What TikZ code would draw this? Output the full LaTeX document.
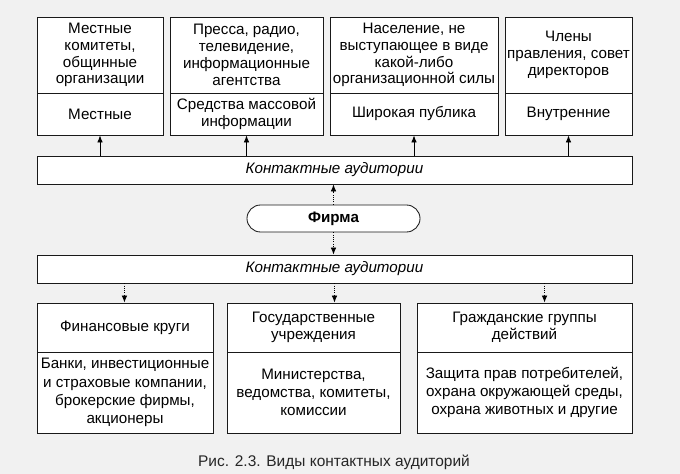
\documentclass[tikz,border=0pt]{standalone}
\usepackage{fontspec}
\setmainfont{Liberation Sans}
\usetikzlibrary{arrows.meta}
\definecolor{paper gray}{rgb}{0.945, 0.945, 0.945}
\definecolor{frame black}{rgb}{0.1, 0.1, 0.1}

\begin{document}
\begin{tikzpicture}[x=0.025cm, y=-0.025cm,
		cell/.style={draw=frame black, fill=white, line width=0.6pt, align=center,
			inner sep=0pt, font=\fontsize{10.8}{12}\selectfont},
		wide cell/.style={cell, font=\fontsize{10.8}{13}\selectfont},
		bar/.style={cell, minimum width=14.875cm, minimum height=0.7cm,
			font=\fontsize{10.8}{12}\selectfont\itshape},
		up/.style={-{Latex[length=5pt, width=4pt]}, line width=0.6pt},
		down/.style={up, densely dotted}]
		% page
		\useasboundingbox (0, 0) rectangle (680, 474);
		\fill[paper gray] (0, 0) rectangle (680, 474);
		% part for the upper audiences
		\node[cell, minimum width=3.15cm, minimum height=1.9cm] (local) at (100, 55)
			{Местные\\комитеты,\\общинные\\организации};
		\node[cell, minimum width=3.15cm, minimum height=1.05cm] (localname) at (100, 114)
			{Местные};
		\node[cell, minimum width=3.825cm, minimum height=1.9cm] (press) at (246.5, 55)
			{Пресса, радио,\\телевидение,\\информационные\\агентства};
		\node[cell, minimum width=3.825cm, minimum height=1.05cm] (pressname) at (246.5, 114)
			{Средства массовой\\информации};
		\node[cell, minimum width=4.2cm, minimum height=1.9cm] (public) at (414, 55)
			{Население, не\\выступающее в виде\\какой-либо\\организационной силы};
		\node[cell, minimum width=4.2cm, minimum height=1.05cm] (publicname) at (414, 114)
			{Широкая публика};
		\node[cell, minimum width=3.175cm, minimum height=1.9cm] (board) at (568.5, 55)
			{Члены\\правления, совет\\директоров};
		\node[cell, minimum width=3.175cm, minimum height=1.05cm] (boardname) at (568.5, 114)
			{Внутренние};
		% part for the firm and both bars
		\node[bar] (ubar) at (334.5, 170) {Контактные аудитории};
		\node[cell, rounded corners=0.34cm, minimum width=4.325cm, minimum height=0.675cm,
			font=\fontsize{10.8}{12}\selectfont\bfseries] (firm) at (333.5, 218.5) {Фирма};
		\node[bar] (lbar) at (334.5, 269) {Контактные аудитории};
		% part for the lower audiences
		\node[cell, minimum width=4.4cm, minimum height=1.225cm] (finname) at (125, 327.5)
			{Финансовые круги};
		\node[wide cell, minimum width=4.4cm, minimum height=2.025cm] (fin) at (125, 392.5)
			{Банки, инвестиционные\\и страховые компании,\\брокерские фирмы,\\акционеры};
		\node[cell, minimum width=4.325cm, minimum height=1.225cm] (govname) at (313.5, 327.5)
			{Государственные\\учреждения};
		\node[wide cell, minimum width=4.325cm, minimum height=2.025cm] (gov) at (313.5, 392.5)
			{Министерства,\\ведомства, комитеты,\\комиссии};
		\node[cell, minimum width=5.375cm, minimum height=1.225cm] (civname) at (524.5, 327.5)
			{Гражданские группы\\действий};
		\node[wide cell, minimum width=5.375cm, minimum height=2.025cm] (civ) at (524.5, 392.5)
			{Защита прав потребителей,\\охрана окружающей среды,\\охрана животных и другие};
		% connectors
		\foreach \n in {localname, pressname, publicname, boardname}
			\draw[up] (ubar.north -| \n) -- (\n.south);
		\draw[down] (firm.north) -- (firm.north |- ubar.south);
		\draw[down] (firm.south) -- (firm.south |- lbar.north);
		\draw[down] ([xshift=-5.25cm]lbar.south) -- ([xshift=-5.25cm]lbar.south |- finname.north);
		\draw[down] (lbar.south) -- (lbar.south |- govname.north);
		\draw[down] ([xshift=5.25cm]lbar.south) -- ([xshift=5.25cm]lbar.south |- civname.north);
		% caption
		\node[font=\fontsize{11}{12}\selectfont, text=black!85] (caption) at (334, 462)
			{Рис. 2.3. Виды контактных аудиторий};
	\end{tikzpicture}
\end{document}
